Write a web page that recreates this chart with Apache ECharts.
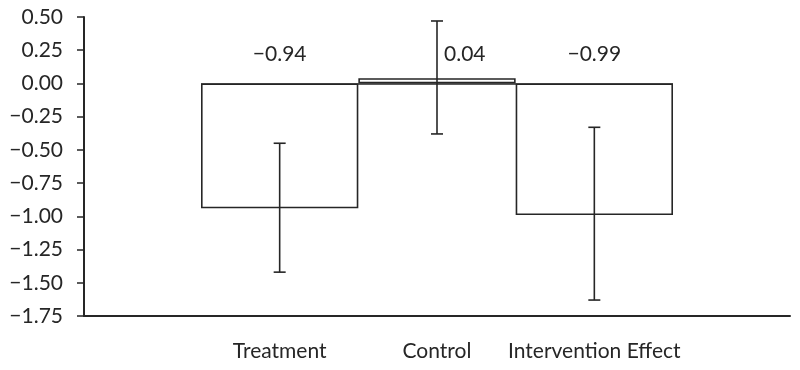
<!DOCTYPE html>
<html>
<head>
<meta charset="utf-8">
<script src="https://cdn.jsdelivr.net/npm/echarts@6/dist/echarts.min.js"></script>
<style>
  html, body { margin: 0; padding: 0; background: #fff; }
  #chart { width: 800px; height: 370px; }
</style>
</head>
<body>
<div id="chart"></div>
<script>
// data
var categories = ["Treatment", "Control", "Intervention Effect"];
var means = [-0.94, 0.04, -0.99];
var errLow = [-1.42, -0.38, -1.63];
var errHigh = [-0.45, 0.47, -0.33];

var yMin = -1.75, yMax = 0.5, yStep = 0.25;
var ink = "#262626";
var font = "Lato";

function fmt(v, d) {
  var s = Math.abs(v).toFixed(d);
  return (v < 0 ? "\u2212" : "") + s;
}

var errData = [];
for (var i = 0; i < categories.length; i++) {
  errData.push([i, errLow[i], errHigh[i], means[i]]);
}

var chart = echarts.init(document.getElementById("chart"));

var option = {
  animation: false,
  backgroundColor: "#fff",
  grid: [
    // bar area
    { left: 201, right: 127, top: 17, bottom: 54 },
    // full axis frame
    { left: 84, right: 10, top: 17, bottom: 54 }
  ],
  xAxis: [
    {
      type: "category",
      gridIndex: 0,
      data: categories,
      position: "bottom",
      axisLine: { show: false, onZero: false },
      axisTick: { show: false },
      axisLabel: { color: ink, fontFamily: font, fontSize: 21, margin: 25, interval: 0 },
      splitLine: { show: false }
    },
    {
      type: "value",
      gridIndex: 1,
      min: 0,
      max: 1,
      axisLine: { show: true, onZero: false, lineStyle: { color: ink, width: 2 } },
      axisTick: { show: false },
      axisLabel: { show: false },
      splitLine: { show: false }
    }
  ],
  yAxis: [
    {
      type: "value",
      gridIndex: 0,
      min: yMin,
      max: yMax,
      interval: yStep,
      show: false,
      splitLine: { show: false }
    },
    {
      type: "value",
      gridIndex: 1,
      min: yMin,
      max: yMax,
      interval: yStep,
      axisLine: { show: true, lineStyle: { color: ink, width: 2 } },
      axisTick: { show: true, length: 7, lineStyle: { color: ink, width: 1.5 } },
      axisLabel: {
        color: ink, fontFamily: font, fontSize: 21, margin: 21,
        formatter: function (v) { return fmt(v, 2); }
      },
      splitLine: { show: false }
    }
  ],
  series: [
    {
      type: "bar",
      xAxisIndex: 0,
      yAxisIndex: 0,
      data: means,
      barWidth: "100%",
      barCategoryGap: "0%",
      itemStyle: { color: "#fff", borderColor: ink, borderWidth: 1.6 },
      markLine: {
        silent: true,
        symbol: "none",
        label: { show: false },
        lineStyle: { color: ink, width: 1.6, type: "solid" },
        data: [{ yAxis: 0 }]
      },
      z: 2
    },
    {
      type: "custom",
      xAxisIndex: 0,
      yAxisIndex: 0,
      data: errData,
      encode: { x: 0, y: [1, 2] },
      z: 5,
      renderItem: function (params, api) {
        var idx = api.value(0);
        var lo = api.coord([idx, api.value(1)]);
        var hi = api.coord([idx, api.value(2)]);
        var zero = api.coord([idx, 0]);
        var cap = 6;
        var lineStyle = { stroke: ink, lineWidth: 1.6 };
        var labelY = zero[1] - 29;
        // move the label beside the whisker if the whisker runs through it
        var clash = hi[1] < labelY + 12;
        return {
          type: "group",
          children: [
            { type: "line", shape: { x1: lo[0], y1: lo[1], x2: hi[0], y2: hi[1] }, style: lineStyle },
            { type: "line", shape: { x1: lo[0] - cap, y1: lo[1], x2: lo[0] + cap, y2: lo[1] }, style: lineStyle },
            { type: "line", shape: { x1: hi[0] - cap, y1: hi[1], x2: hi[0] + cap, y2: hi[1] }, style: lineStyle },
            {
              type: "text",
              x: clash ? zero[0] + 7 : zero[0],
              y: labelY,
              style: {
                text: fmt(api.value(3), 2),
                fill: ink,
                font: "21px " + font,
                textAlign: clash ? "left" : "center",
                textVerticalAlign: "middle"
              }
            }
          ]
        };
      }
    }
  ]
};

chart.setOption(option);
</script>
</body>
</html>
